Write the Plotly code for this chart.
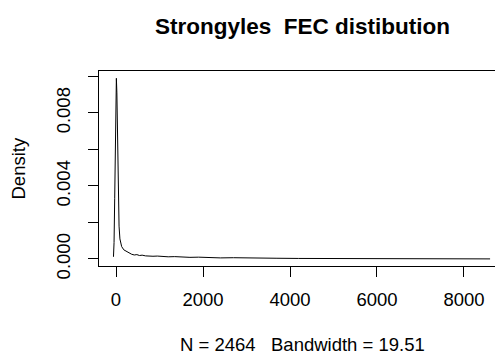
import plotly.graph_objects as go

# Kernel density estimate of Strongyles FEC
fec_x = [-58, -45, -30, -15, 0, 8, 20, 35, 50, 70, 90, 130, 180, 250, 300, 360,
         420, 480, 540, 600, 680, 760, 850, 950, 1050, 1200, 1350, 1500, 1700,
         1900, 2100, 2400, 2700, 3000, 3300, 3700, 4200, 4800, 5500, 6200, 7000,
         7800, 8600]
density = [0.00012, 0.0009, 0.0033, 0.0072, 0.0097, 0.0099, 0.0091, 0.0065,
           0.0036, 0.0018, 0.0011, 0.00068, 0.00050, 0.00040, 0.00032, 0.00026,
           0.00022, 0.00024, 0.00019, 0.00021, 0.00017, 0.00018, 0.00015,
           0.00016, 0.00013, 0.00012, 0.00013, 0.00010, 0.00009, 0.00010,
           0.00008, 0.00006, 0.00007, 0.00005, 0.00006, 0.00004, 0.00003,
           0.00003, 0.00002, 0.00002, 0.00001, 0.00001, 0.000005]

x_ticks = [0, 2000, 4000, 6000, 8000]
y_ticks = [0.000, 0.002, 0.004, 0.006, 0.008, 0.010]
y_ticktext = ["0.000", "", "0.004", "", "0.008", ""]

title_text = "Strongyles\u00a0\u00a0FEC distibution"
sub_text = "N = 2464\u00a0\u00a0\u00a0Bandwidth = 19.51"
ylab = "Density"

FONT = "Liberation Sans, Arial, Helvetica, sans-serif"
BASE = 18.5

fig = go.Figure()
fig.add_trace(go.Scatter(x=fec_x, y=density, mode="lines",
                         line=dict(color="black", width=1), showlegend=False,
                         hoverinfo="skip"))

# the page body has an 8px margin, so the figure is sized to fill the rest of the window
fig.update_layout(
    width=495, height=346,
    margin=dict(l=91, r=0, t=63, b=88),
    paper_bgcolor="white", plot_bgcolor="white",
    font=dict(family=FONT, size=BASE, color="black"),
    xaxis=dict(range=[-391, 8897], tickvals=x_ticks, ticktext=[str(v) for v in x_ticks],
               showgrid=False, zeroline=False, showline=True, mirror=True,
               linecolor="black", linewidth=1, ticks="outside", ticklen=10,
               tickcolor="black", tickwidth=1, ticklabelstandoff=7),
    yaxis=dict(range=[-0.000384, 0.0103], tickvals=y_ticks, ticktext=y_ticktext,
               showgrid=False, zeroline=False, showline=True, mirror=False,
               linecolor="black", linewidth=1, ticks="outside", ticklen=10,
               tickcolor="black", tickwidth=1, tickangle=-90, ticklabelstandoff=11),
    annotations=[
        dict(text="<b>" + title_text + "</b>", xref="paper", yref="paper",
             x=0.5025, y=1, xanchor="center", yanchor="bottom", yshift=30,
             showarrow=False, font=dict(size=22.5, family=FONT)),
        dict(text=sub_text, xref="paper", yref="paper", x=0.5025, y=0,
             xanchor="center", yanchor="top", yshift=-67, borderpad=0,
             showarrow=False, font=dict(size=BASE, family=FONT)),
        dict(text=ylab, xref="paper", yref="paper", x=0, y=0.5,
             xanchor="center", yanchor="middle", xshift=-81, textangle=-90,
             showarrow=False, font=dict(size=BASE, family=FONT)),
    ],
)

fig.write_html("out.html")
